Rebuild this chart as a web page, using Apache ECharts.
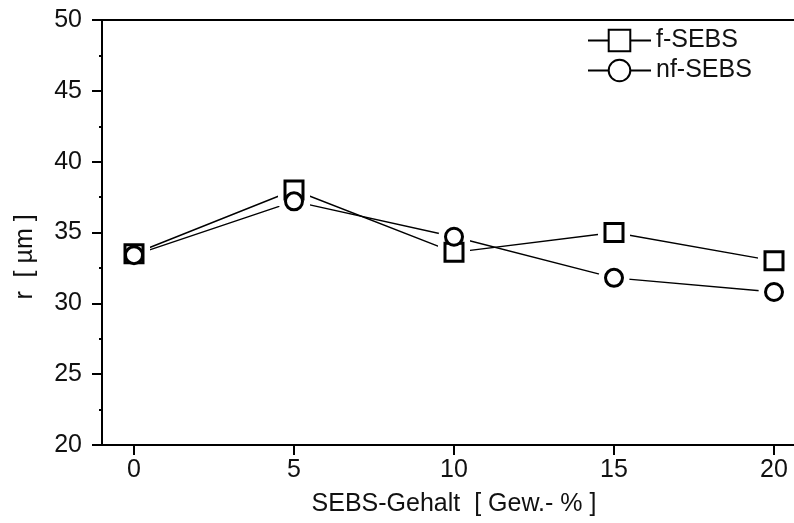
<!DOCTYPE html>
<html>
<head>
<meta charset="utf-8">
<script src="https://cdn.jsdelivr.net/npm/echarts@6/dist/echarts.min.js"></script>
<style>html,body{margin:0;padding:0;background:#fff;}#c{width:794px;height:523px;}</style>
</head>
<body>
<div id="c"></div>
<script>
const xValues = [0, 5, 10, 15, 20];
const fSEBS = [33.5, 38.0, 33.6, 35.0, 33.0];
const nfSEBS = [33.4, 37.2, 34.7, 31.8, 30.8];
const xTicks = [0, 5, 10, 15, 20];
const yTicks = [20, 25, 30, 35, 40, 45, 50];
const seriesNames = ['f-SEBS', 'nf-SEBS'];
const xTitle = 'SEBS-Gehalt  [ Gew.- % ]';
const yTitle = 'r  [ µm ]';

const FONT = '"Liberation Sans", Arial, sans-serif';
const TXT = '#111';
const pts = arr => xValues.map((x, i) => [x, arr[i]]);

const chart = echarts.init(document.getElementById('c'), null, {renderer: 'canvas'});
chart.setOption({
  animation: false,
  backgroundColor: '#fff',
  grid: {left: 102, right: 0, top: 20, bottom: 78, show: false},
  legend: {
    orient: 'vertical', left: 587, top: 28, padding: 0,
    itemWidth: 63, itemHeight: 27, itemGap: 5,
    data: seriesNames,
    selectedMode: false,
    textStyle: {fontFamily: FONT, fontSize: 25, color: TXT}
  },
  xAxis: [{
    type: 'value', min: -1, max: 20.625,
    name: xTitle, nameLocation: 'middle', nameGap: 47,
    nameTextStyle: {fontFamily: FONT, fontSize: 25, color: TXT, padding: [0, 0, 0, 12]},
    axisLine: {show: true, onZero: false, lineStyle: {color: '#000', width: 2}},
    axisTick: {show: true, inside: false, length: 10, lineStyle: {color: '#000', width: 2}, customValues: xTicks},
    axisLabel: {margin: 13, fontFamily: FONT, fontSize: 25, color: TXT, customValues: xTicks},
    splitLine: {show: false}
  }, {
    type: 'value', min: -1, max: 20.625, position: 'top',
    axisLine: {show: true, onZero: false, lineStyle: {color: '#000', width: 2}},
    axisTick: {show: false}, axisLabel: {show: false}, splitLine: {show: false}
  }],
  yAxis: {
    type: 'value', min: 20, max: 50, interval: 5,
    axisLine: {show: true, onZero: false, lineStyle: {color: '#000', width: 2}},
    axisTick: {show: true, inside: false, length: 10, lineStyle: {color: '#000', width: 2}},
    minorTick: {show: true, splitNumber: 2, length: 3, lineStyle: {color: '#000', width: 2}},
    axisLabel: {margin: 20, fontFamily: FONT, fontSize: 25, color: TXT,
      formatter: v => yTicks.indexOf(v) >= 0 ? String(v) : ''},
    splitLine: {show: false}
  },
  graphic: [{
    type: 'text', x: 25, y: 257, rotation: Math.PI / 2,
    style: {text: yTitle, fontFamily: FONT, fontSize: 25, fill: TXT, align: 'center', verticalAlign: 'middle'}
  }],
  series: [
    {name: seriesNames[0], type: 'line', data: pts(fSEBS), z: 2, showSymbol: false,
     symbol: 'rect', symbolSize: 18,
     lineStyle: {color: '#000', width: 1.4},
     itemStyle: {color: '#fff', borderColor: '#000', borderWidth: 3},
     emphasis: {disabled: true}},
    {name: seriesNames[1], type: 'line', data: pts(nfSEBS), z: 2, showSymbol: false,
     symbol: 'circle', symbolSize: 17,
     lineStyle: {color: '#000', width: 1.4},
     itemStyle: {color: '#fff', borderColor: '#000', borderWidth: 3},
     emphasis: {disabled: true}},
    {type: 'scatter', data: pts(fSEBS), zlevel: 1, z: 3, symbol: 'rect', symbolSize: 32, silent: true,
     itemStyle: {color: '#fff', opacity: 1}, emphasis: {disabled: true}},
    {type: 'scatter', data: pts(nfSEBS), zlevel: 1, z: 3, symbol: 'circle', symbolSize: 31, silent: true,
     itemStyle: {color: '#fff', opacity: 1}, emphasis: {disabled: true}},
    {type: 'scatter', data: pts(fSEBS), zlevel: 2, z: 4, symbol: 'rect', symbolSize: 18, silent: true,
     itemStyle: {color: '#fff', borderColor: '#000', borderWidth: 3, opacity: 1}, emphasis: {disabled: true}},
    {type: 'scatter', data: pts(nfSEBS), zlevel: 2, z: 4, symbol: 'circle', symbolSize: 17, silent: true,
     itemStyle: {color: '#fff', borderColor: '#000', borderWidth: 3, opacity: 1}, emphasis: {disabled: true}}
  ]
});
</script>
</body>
</html>
